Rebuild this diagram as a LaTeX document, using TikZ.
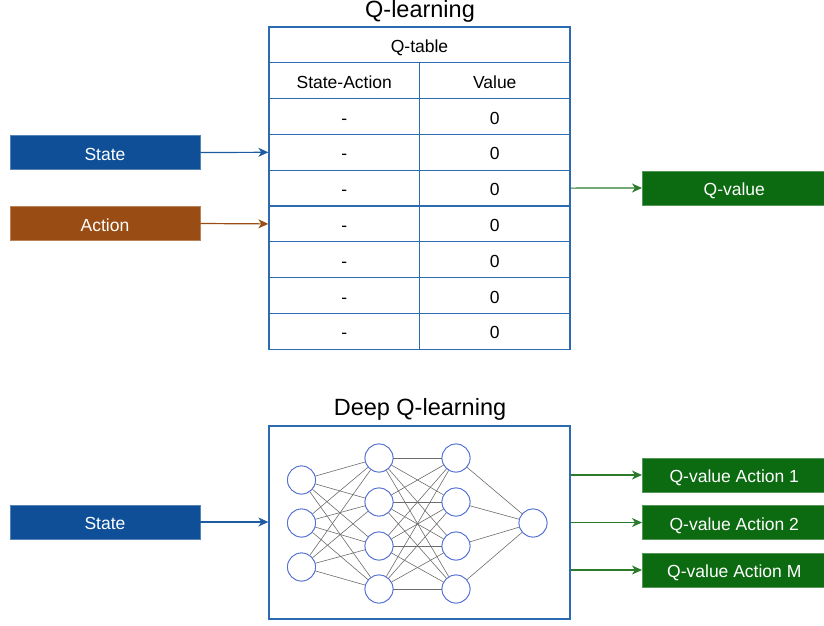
\documentclass[tikz,border=0pt]{standalone}
\usepackage{fontspec}
\setmainfont{Liberation Sans}
\usetikzlibrary{arrows.meta}
\definecolor{stateblue}{HTML}{0E4F97}
\definecolor{actionbrown}{HTML}{994C13}
\definecolor{qgreen}{HTML}{0C6A10}
\definecolor{arrowblue}{HTML}{1D5CA3}
\definecolor{arrowgreen}{HTML}{2B7B2B}
\definecolor{gridblue}{HTML}{2C6AB1}
\definecolor{neuronblue}{HTML}{4E6BD4}
\begin{document}
\begin{tikzpicture}[x=1pt,y=-1pt,
  txt/.style={font=\fontsize{17.5}{20}\selectfont, text height=15.3pt, text depth=0pt},
  ttl/.style={font=\fontsize{23.5}{27}\selectfont, anchor=base},
  inbox/.style={txt, text=white, minimum width=190pt, minimum height=34pt, inner sep=0pt, draw=#1!70!white, fill=#1, line width=0.6pt},
  outbox/.style={txt, text=white, anchor=west, minimum width=184pt, minimum height=34pt, inner sep=0pt, draw=qgreen!70!white, fill=qgreen, line width=0.6pt},
  cell/.style={txt, draw=gridblue, line width=1.3pt, minimum width=150.5pt, minimum height=35.8pt, inner sep=0pt},
  wide/.style={txt, draw=gridblue, line width=1.3pt, minimum width=301pt, minimum height=35.8pt, inner sep=0pt},
  neuron/.style={circle, draw=neuronblue, line width=0.8pt, fill=white, minimum size=28pt, inner sep=0pt},
  link/.style={draw=gray!85!black, line width=0.6pt},
  tip/.style={-{Stealth[length=10pt,width=9pt,inset=3pt]}, line width=1.2pt}
]
\useasboundingbox (0,0) rectangle (824,625);

% ---------- Q-learning ----------
\node[ttl] (t1) at (420,17) {Q-learning};
\node[wide] (qhead) at (419.5,44.9) {Q-table};
\node[cell] (hsa) at (344.25,80.7) {State-Action};
\node[cell] (hv) at (494.75,80.7) {Value};
\foreach \i in {1,...,7}{
  \node[cell] (l\i) at (344.25,{80.7+35.8*\i}) {-};
  \node[cell] (v\i) at (494.75,{80.7+35.8*\i}) {0};
}

\node[inbox=stateblue] (state1) at (105,152.5) {State};
\node[inbox=actionbrown] (action1) at (105,223.5) {Action};
\node[outbox] (qv) at (642,188) {Q-value};

\draw[tip, arrowblue] (state1.east) -- (l2.west);
\draw[tip, actionbrown] (action1.east) -- (l4.west);
\draw[tip, arrowgreen] (v3.east) -- (qv.west);

% ---------- Deep Q-learning ----------
\node[ttl] (t2) at (420,415) {Deep Q-learning};
\node[draw=gridblue, line width=1.3pt, minimum width=301pt, minimum height=193pt, inner sep=0pt] (net) at (419.5,522.5) {};

% network layers
\foreach \j/\y in {1/480,2/523,3/567} \node[neuron] (a\j) at (301.5,\y) {};
\foreach \j/\y in {1/458,2/502,3/546,4/589} \node[neuron] (b\j) at (379,\y) {};
\foreach \j/\y in {1/458,2/502,3/546,4/589} \node[neuron] (c\j) at (456,\y) {};
\node[neuron] (o) at (533,523) {};

\foreach \p in {1,2,3} \foreach \q in {1,...,4} \draw[link] (a\p) -- (b\q);
\foreach \p in {1,...,4} \foreach \q in {1,...,4} \draw[link] (b\p) -- (c\q);
\foreach \p in {1,...,4} \draw[link] (c\p) -- (o);

% redraw neurons above the links
\foreach \j/\y in {1/480,2/523,3/567} \node[neuron] at (301.5,\y) {};
\foreach \j/\y in {1/458,2/502,3/546,4/589} \node[neuron] at (379,\y) {};
\foreach \j/\y in {1/458,2/502,3/546,4/589} \node[neuron] at (456,\y) {};
\node[neuron] at (533,523) {};

\node[inbox=stateblue] (state2) at (105,522) {State};
\node[outbox] (qa1) at (642,475) {Q-value Action 1};
\node[outbox] (qa2) at (642,522.5) {Q-value Action 2};
\node[outbox] (qam) at (642,570) {Q-value Action M};

\coordinate (in2) at (net.west |- state2.east);
\coordinate (o1) at (net.east |- qa1.west);
\coordinate (o2) at (net.east |- qa2.west);
\coordinate (o3) at (net.east |- qam.west);
\draw[tip, arrowblue] (state2.east) -- (in2);
\draw[tip, arrowgreen] (o1) -- (qa1.west);
\draw[tip, arrowgreen] (o2) -- (qa2.west);
\draw[tip, arrowgreen] (o3) -- (qam.west);
\end{tikzpicture}
\end{document}
